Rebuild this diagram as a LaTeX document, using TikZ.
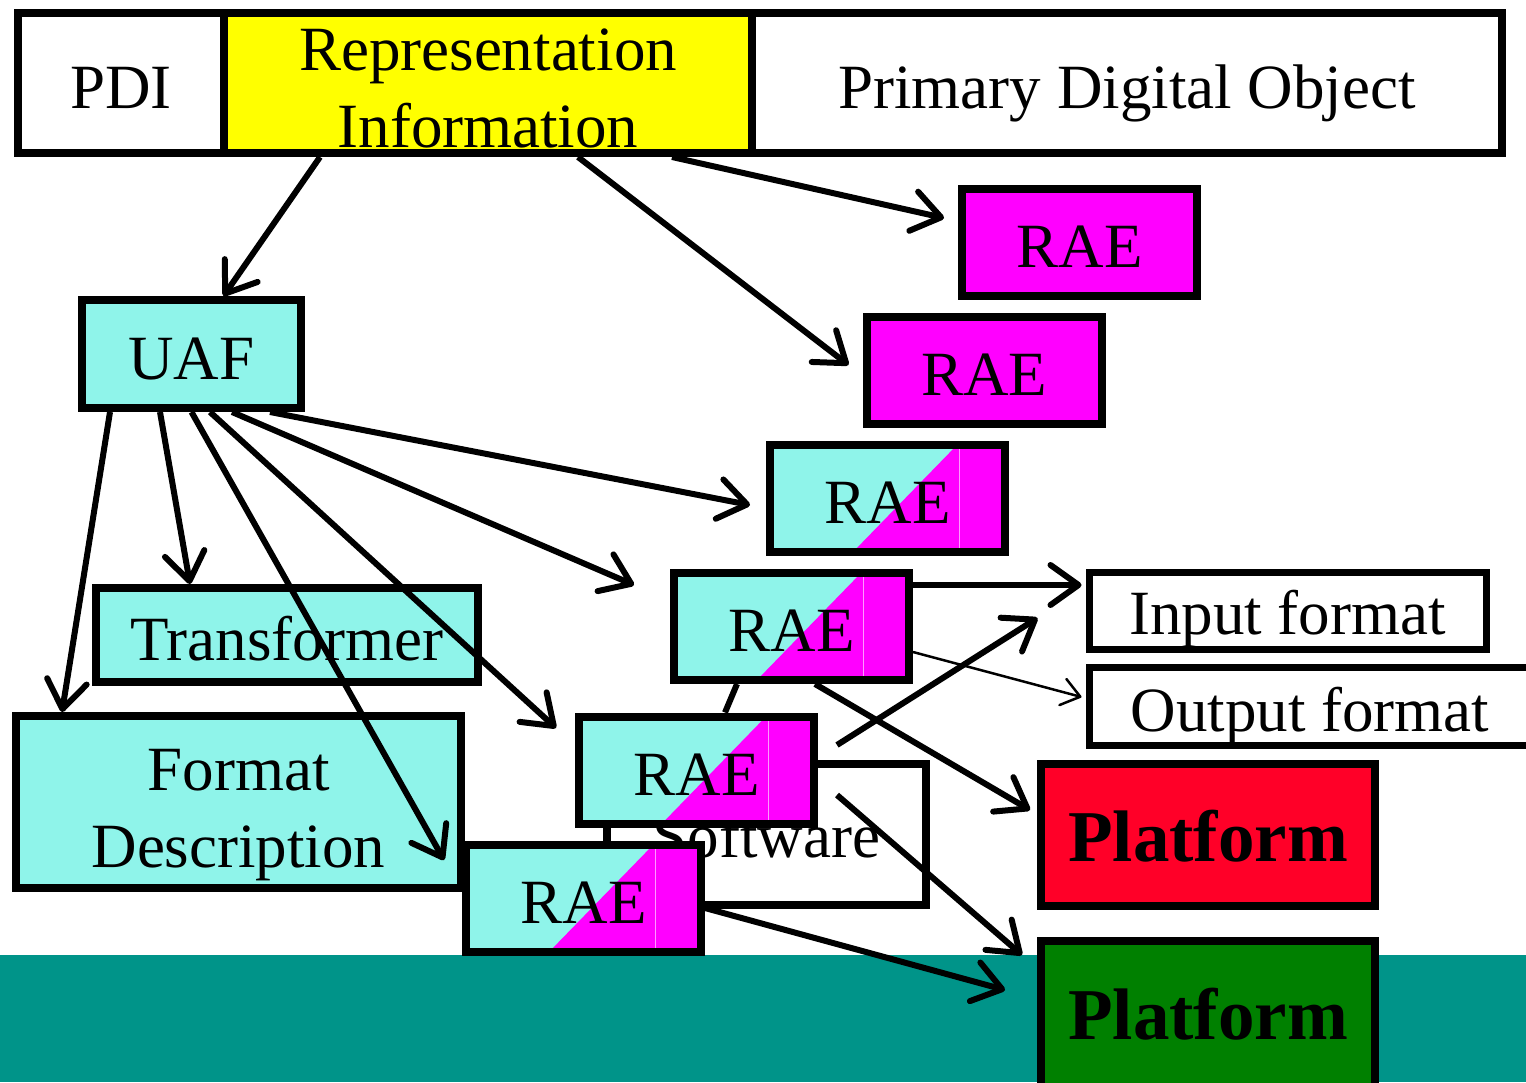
\documentclass[tikz,border=0pt]{standalone}
\usepackage{fontspec}
\setmainfont{Liberation Serif}
\usetikzlibrary{arrows.meta}
\definecolor{aqua}{RGB}{143,244,234}
\definecolor{mag}{RGB}{255,0,255}
\definecolor{yel}{RGB}{255,255,0}
\definecolor{pred}{RGB}{255,0,40}
\definecolor{pgreen}{RGB}{0,128,0}
\definecolor{band}{RGB}{0,148,137}
\begin{document}
\begin{tikzpicture}[x=1pt,y=-1pt,
  box/.style={draw=black,line width=8pt,inner sep=0pt,rectangle,
    font=\fontsize{63}{77}\selectfont,align=center,text height=50pt,text depth=0pt},
  raem/.style={box,fill=mag,minimum width=235pt,minimum height=107pt},
  raes/.style={box,minimum width=235pt,minimum height=107pt,
    path picture={
      \fill[aqua] (path picture bounding box.south west) rectangle (path picture bounding box.north east);
      \fill[mag] ([xshift=83pt]path picture bounding box.south west) -- ([xshift=187pt]path picture bounding box.north west) -- (path picture bounding box.north east) -- (path picture bounding box.south east) -- cycle;
      \draw[mag!40!white,line width=0.8pt] ([xshift=189pt]path picture bounding box.north west) -- ([xshift=189pt]path picture bounding box.south west);
    }},
  aquabox/.style={box,fill=aqua},
  platbox/.style={box,minimum width=334pt,font=\fontsize{73}{80}\selectfont\bfseries},
  arr/.style={line width=6pt,-{Straight Barb[length=28pt,width=40pt,round]}},
  thinarr/.style={line width=2.5pt,-{Straight Barb[length=18pt,width=27pt,round]}}
]
\useasboundingbox (0,0) rectangle (1526,1082);
\fill[band] (0,955) rectangle (1526,1082);

% top bar
\node[box,minimum width=206pt,minimum height=140pt] (pdi) at (121,83) {PDI};
\node[box,fill=yel,minimum width=528pt,minimum height=140pt,text height=128pt] (ri) at (488,83) {Representation\\Information};
\node[box,minimum width=750pt,minimum height=140pt] (pdo) at (1127,83) {Primary Digital Object};

% RAE boxes
\node[raem] (rae1) at (1079.5,242.5) {RAE};
\node[raem] (rae2) at (984,370.5) {RAE};
\node[raes] (rae3) at (887.5,498.5) {RAE};
\node[raes] (rae4) at (791.5,626.5) {RAE};
\node[box,minimum width=319pt,minimum height=141pt,text height=46pt] (sw) at (766.5,834.5) {Software};
\node[raes] (rae5) at (696.5,770) {RAE};
\node[raes] (rae6) at (583.5,898.5) {RAE};

% left boxes
\node[aquabox,minimum width=219pt,minimum height=108pt] (uaf) at (191.5,354) {UAF};
\node[aquabox,minimum width=382pt,minimum height=94pt] (tr) at (287,635) {Transformer};
\node[aquabox,minimum width=445pt,minimum height=172pt,text height=130pt] (fd) at (238.5,802) {Format\\Description};

% right boxes
\node[box,line width=7pt,minimum width=397pt,minimum height=77pt,text height=47pt] (inf) at (1287.5,610.5) {Input format};
\node[box,line width=7pt,minimum width=442pt,minimum height=78pt] (outf) at (1310,706) {Output format};
\node[platbox,fill=pred,minimum height=142pt,text height=52pt] (plr) at (1208,835) {Platform};
\node[platbox,fill=pgreen,minimum height=149pt,text height=48pt] (plg) at (1208,1015.5) {Platform};

% connectors
\draw[arr] ([xshift=-168pt]ri.south) -- ([xshift=32pt]uaf.north);
\draw[arr] ([xshift=90pt]ri.south) -- ([xshift=-14pt,yshift=5.5pt]rae2.west);
\draw[arr] ([xshift=184pt]ri.south) -- ([xshift=-14pt,yshift=24.5pt]rae1.west);
\draw[arr] ([xshift=-81.5pt]uaf.south) -- ([xshift=-176.5pt]fd.north);
\draw[arr] ([xshift=-31.5pt]uaf.south) -- ([xshift=-97pt]tr.north);
\draw[arr] (uaf.south) -- ([xshift=-18pt,yshift=38.5pt]rae6.west);
\draw[arr] ([xshift=18.5pt]uaf.south) -- ([xshift=-19pt,yshift=42pt]rae5.west);
\draw[arr] ([xshift=40.5pt]uaf.south) -- ([xshift=-36pt,yshift=41.5pt]rae4.west);
\draw[arr] ([xshift=78.5pt]uaf.south) -- ([xshift=-16pt,yshift=-6.5pt]rae3.west);
\draw[arr] ([yshift=41.5pt]rae4.east) -- ([xshift=-4pt,yshift=25.5pt]inf.west);
\draw[thinarr] ([yshift=-25.5pt]rae4.east) -- ([xshift=-4pt,yshift=9pt]outf.west);
\draw[arr] ([xshift=23.5pt]rae4.south) -- ([xshift=-7pt,yshift=25pt]plr.west);
\draw[arr] ([xshift=19pt,yshift=25pt]rae5.east) -- ([xshift=-48pt,yshift=-7.5pt]inf.west);
\draw[arr] ([xshift=19pt,yshift=-25pt]rae5.east) -- ([xshift=-15pt,yshift=60.5pt]plg.west);
\draw[arr] ([yshift=-9.5pt]rae6.east) -- ([xshift=-32pt,yshift=25.5pt]plg.west);
\draw[line width=6pt] ([xshift=-54.5pt]rae4.south) -- ([xshift=28.5pt]rae5.north);
\end{tikzpicture}
\end{document}
